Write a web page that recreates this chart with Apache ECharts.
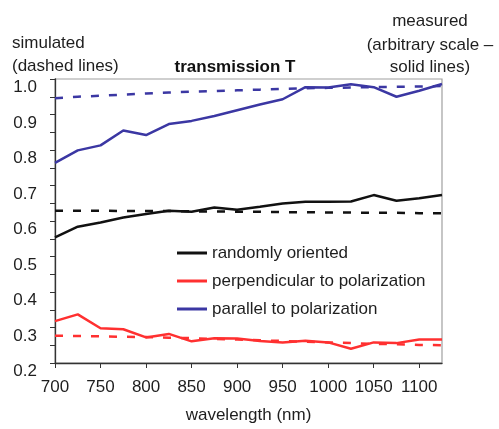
<!DOCTYPE html>
<html>
<head>
<meta charset="utf-8">
<script src="https://cdn.jsdelivr.net/npm/echarts@6/dist/echarts.min.js"></script>
<style>
  html, body { margin: 0; padding: 0; background: #fff; }
  #chart { width: 499px; height: 429px; }
</style>
</head>
<body>
<div id="chart"></div>
<script>
// Wavelength grids (nm)
const wavelengths = [700, 725, 750, 775, 800, 825, 850, 875, 900, 925, 950, 975, 1000, 1025, 1050, 1075, 1100, 1125];
const simWavelengths = [700, 725, 750, 775, 800, 825, 850, 875, 900, 925, 950, 975, 1000, 1025, 1050, 1075, 1100, 1125, 1130];

// Measured transmission (solid lines, arbitrary scale)
const measuredRandom = [0.554, 0.584, 0.596, 0.610, 0.620, 0.629, 0.626, 0.638, 0.632, 0.640, 0.649, 0.654, 0.654, 0.655, 0.673, 0.657, 0.664, 0.673];
const measuredPerp   = [0.318, 0.337, 0.298, 0.295, 0.272, 0.282, 0.261, 0.270, 0.269, 0.262, 0.258, 0.263, 0.258, 0.240, 0.258, 0.256, 0.266, 0.266];
const measuredPar    = [0.764, 0.799, 0.813, 0.855, 0.842, 0.873, 0.882, 0.896, 0.912, 0.928, 0.943, 0.977, 0.976, 0.985, 0.977, 0.950, 0.967, 0.986];

// Simulated transmission (dashed lines)
const simRandom = [0.629, 0.629, 0.629, 0.628, 0.628, 0.628, 0.627, 0.627, 0.626, 0.626, 0.625, 0.625, 0.624, 0.624, 0.623, 0.623, 0.622, 0.622, 0.621];
const simPerp   = [0.277, 0.276, 0.275, 0.274, 0.273, 0.271, 0.270, 0.268, 0.266, 0.264, 0.262, 0.260, 0.258, 0.256, 0.254, 0.253, 0.251, 0.250, 0.249];
const simPar    = [0.946, 0.950, 0.953, 0.956, 0.959, 0.962, 0.964, 0.966, 0.968, 0.970, 0.972, 0.974, 0.975, 0.976, 0.977, 0.978, 0.979, 0.980, 0.981];

// Axis ticks and labels
const xTickValues = [700, 750, 800, 850, 900, 950, 1000, 1050, 1100];
const yTickValues = [0.2, 0.25, 0.3, 0.35, 0.4, 0.45, 0.5, 0.55, 0.6, 0.65, 0.7, 0.75, 0.8, 0.85, 0.9, 0.95, 1.0];
const yLabelValues = [0.2, 0.3, 0.4, 0.5, 0.6, 0.7, 0.8, 0.9, 1.0];

const names = ['randomly oriented', 'perpendicular to polarization', 'parallel to polarization'];
const colors = ['#111111', '#ff3030', '#3b37a3'];

const FONT = '"Liberation Sans", Arial, sans-serif';
const TEXT = '#1e1e1e';

const pairs = (xs, ys) => ys.map((y, i) => [xs[i], y]);

function solid(name, color, xs, ys) {
  return {
    name, type: 'line', data: pairs(xs, ys), color,
    showSymbol: false, symbol: 'none',
    lineStyle: { color, width: 2.5 },
    z: 3
  };
}
function dashed(name, color, xs, ys) {
  return {
    name, type: 'line', data: pairs(xs, ys), color,
    showSymbol: false, symbol: 'none', clip: false,
    lineStyle: { color, width: 2.5, type: [8, 10] },
    z: 2
  };
}

const chart = echarts.init(document.getElementById('chart'), null, { renderer: 'canvas' });

chart.setOption({
  animation: false,
  backgroundColor: '#ffffff',
  textStyle: { fontFamily: FONT },
  grid: {
    left: 55, right: 57, top: 79, bottom: 64,
    show: true, borderColor: '#a0a0a0', borderWidth: 1.2
  },
  xAxis: {
    type: 'value', min: 700, max: 1125,
    name: 'wavelength (nm)', nameLocation: 'middle', nameGap: 44,
    nameTextStyle: { fontSize: 17, color: TEXT, fontFamily: FONT },
    axisLine: { show: true, lineStyle: { color: '#333', width: 1.3 } },
    axisTick: { show: true, length: 5, lineStyle: { color: '#333' }, customValues: xTickValues },
    axisLabel: {
      fontSize: 17, color: TEXT, margin: 16, fontFamily: FONT,
      customValues: xTickValues, formatter: v => String(v)
    },
    splitLine: { show: false }
  },
  yAxis: {
    type: 'value', min: 0.2, max: 1.0, interval: 0.05,
    axisLine: { show: true, lineStyle: { color: '#333', width: 1.3 } },
    axisTick: { show: true, length: 5, lineStyle: { color: '#333' }, customValues: yTickValues },
    axisLabel: {
      fontSize: 17, color: TEXT, margin: 18, fontFamily: FONT,
      customValues: yLabelValues, verticalAlign: 'top', lineHeight: 17,
      formatter: v => v.toFixed(1)
    },
    splitLine: { show: false }
  },
  legend: {
    data: names,
    orient: 'vertical', left: 172, top: 238,
    icon: 'rect', itemWidth: 30, itemHeight: 3, itemGap: 8,
    textStyle: { fontSize: 17, color: TEXT, fontFamily: FONT, lineHeight: 20 },
    selectedMode: false
  },
  graphic: [
    { type: 'text', left: 12, top: 35, style: { text: 'simulated', font: '17px ' + FONT, fill: TEXT } },
    { type: 'text', left: 12, top: 58, style: { text: '(dashed lines)', font: '17px ' + FONT, fill: TEXT } },
    { type: 'text', x: 235, y: 67, style: { text: 'transmission T', font: 'bold 17px ' + FONT, fill: '#111', align: 'center', verticalAlign: 'middle' } },
    { type: 'text', x: 430, y: 21, style: { text: 'measured', font: '17px ' + FONT, fill: TEXT, align: 'center', verticalAlign: 'middle' } },
    { type: 'text', x: 430, y: 45, style: { text: '(arbitrary scale –', font: '17px ' + FONT, fill: TEXT, align: 'center', verticalAlign: 'middle' } },
    { type: 'text', x: 430, y: 67, style: { text: 'solid lines)', font: '17px ' + FONT, fill: TEXT, align: 'center', verticalAlign: 'middle' } }
  ],
  series: [
    solid(names[0], colors[0], wavelengths, measuredRandom),
    solid(names[1], colors[1], wavelengths, measuredPerp),
    solid(names[2], colors[2], wavelengths, measuredPar),
    dashed('simulated: ' + names[0], colors[0], simWavelengths, simRandom),
    dashed('simulated: ' + names[1], colors[1], simWavelengths, simPerp),
    dashed('simulated: ' + names[2], colors[2], simWavelengths, simPar)
  ]
});
</script>
</body>
</html>
